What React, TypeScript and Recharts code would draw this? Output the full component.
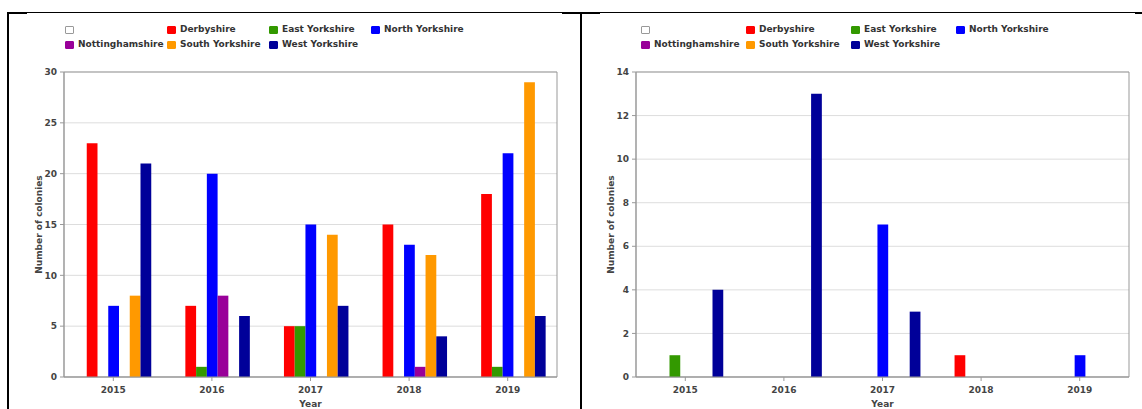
import React from "react";
import { BarChart, Bar, XAxis, YAxis, CartesianGrid, Legend, Label, ReferenceArea } from "recharts";

// Colonies per county and year, two panels side by side
const years = ["2015", "2016", "2017", "2018", "2019"];

const seriesNames = [
  "",
  "Derbyshire",
  "East Yorkshire",
  "North Yorkshire",
  "Nottinghamshire",
  "South Yorkshire",
  "West Yorkshire"
];
const seriesColors = ["#ffffff", "#ff0000", "#339900", "#0000ff", "#990099", "#ff9900", "#000099"];

// left panel
const blankLeft = [0, 0, 0, 0, 0];
const derbyshireLeft = [23, 7, 5, 15, 18];
const eastLeft = [0, 1, 5, 0, 1];
const northLeft = [7, 20, 15, 13, 22];
const nottsLeft = [0, 8, 0, 1, 0];
const southLeft = [8, 0, 14, 12, 29];
const westLeft = [21, 6, 7, 4, 6];
const leftTicks = [0, 5, 10, 15, 20, 25, 30];

// right panel
const blankRight = [0, 0, 0, 0, 0];
const derbyshireRight = [0, 0, 0, 1, 0];
const eastRight = [1, 0, 0, 0, 0];
const northRight = [0, 0, 7, 0, 1];
const nottsRight = [0, 0, 0, 0, 0];
const southRight = [0, 0, 0, 0, 0];
const westRight = [4, 13, 3, 0, 0];
const rightTicks = [0, 2, 4, 6, 8, 10, 12, 14];

const FONT = "'DejaVu Sans', sans-serif";
const tickStyle = { fill: "#444", fontSize: 9, fontWeight: "bold" as const, fontFamily: FONT };

function buildRows(cols: number[][]) {
  return years.map((year, i) => {
    const row: Record<string, string | number> = { year };
    cols.forEach((c, k) => (row["s" + k] = c[i]));
    return row;
  });
}

const leftRows = buildRows([blankLeft, derbyshireLeft, eastLeft, northLeft, nottsLeft, southLeft, westLeft]);
const rightRows = buildRows([blankRight, derbyshireRight, eastRight, northRight, nottsRight, southRight, westRight]);

function LegendGrid({ colWidth }: { colWidth: number }) {
  return (
    <div
      style={{
        display: "grid",
        gridTemplateColumns: `repeat(4, ${colWidth}px)`,
        fontFamily: FONT,
        fontSize: 9,
        fontWeight: "bold",
        color: "#333",
        lineHeight: "15px"
      }}
    >
      {seriesNames.map((name, i) => (
        <div key={i} style={{ display: "flex", alignItems: "center", height: 15, whiteSpace: "nowrap" }}>
          <span
            style={{
              display: "inline-block",
              width: 9,
              height: 8,
              boxSizing: "border-box",
              borderRadius: 1,
              background: seriesColors[i],
              border: `1px solid ${i === 0 ? "#999" : seriesColors[i]}`,
              marginRight: 4
            }}
          />
          {name}
        </div>
      ))}
    </div>
  );
}

type PanelProps = {
  rows: Record<string, string | number>[];
  ticks: number[];
  left: number;
  width: number;
  marginLeft: number;
  marginRight: number;
  legendLeft: number;
  colWidth: number;
};

function Panel({ rows, ticks, left, width, marginLeft, marginRight, legendLeft, colWidth }: PanelProps) {
  const max = ticks[ticks.length - 1];
  return (
    <div style={{ position: "absolute", left, top: 0 }}>
      <BarChart
        width={width}
        height={409}
        data={rows}
        margin={{ top: 72, right: marginRight, bottom: 2, left: marginLeft }}
        barGap={0}
        style={{ fontFamily: FONT }}
      >
        <CartesianGrid vertical={false} stroke="#dddddd" />
        {/* plot frame */}
        <ReferenceArea y1={0} y2={max} fill="none" stroke="#999" strokeWidth={1} ifOverflow="visible" />
        <XAxis
          dataKey="year"
          height={30}
          tick={tickStyle}
          tickSize={4}
          tickMargin={6}
          stroke="#999"
          tickLine={{ stroke: "#999" }}
        >
          <Label value="Year" position="insideBottom" offset={0} fill="#444" fontSize={9} fontWeight="bold" />
        </XAxis>
        <YAxis
          width={55}
          domain={[0, max]}
          ticks={ticks}
          interval={0}
          tick={tickStyle}
          tickSize={4}
          tickMargin={3}
          stroke="#999"
        >
          <Label
            value="Number of colonies"
            angle={-90}
            position="center"
            dx={2.5}
            fill="#444"
            fontSize={9}
            fontWeight="bold"
          />
        </YAxis>
        <Legend
          layout="vertical"
          align="center"
          verticalAlign="middle"
          wrapperStyle={{ left: legendLeft, top: 22, width: colWidth * 4 }}
          content={() => <LegendGrid colWidth={colWidth} />}
        />
        {seriesNames.map((name, i) => (
          <Bar
            key={i}
            dataKey={"s" + i}
            name={name}
            fill={seriesColors[i]}
            barSize={10.75}
            isAnimationActive={false}
          />
        ))}
      </BarChart>
    </div>
  );
}

export default function App() {
  const line = "#000";
  return (
    <div style={{ position: "absolute", left: 0, top: 0, width: 1142, height: 409, background: "#fff", overflow: "hidden" }}>
      <Panel rows={leftRows} ticks={leftTicks} left={0} width={580} marginLeft={9} marginRight={23} legendLeft={65} colWidth={102} />
      <Panel rows={rightRows} ticks={rightTicks} left={580} width={562} marginLeft={1} marginRight={13} legendLeft={61} colWidth={105} />
      {/* table cell borders */}
      <div style={{ position: "absolute", left: 7, top: 12, width: 1135, height: 1, background: line }} />
      <div style={{ position: "absolute", left: 7, top: 12, width: 20, height: 2, background: line }} />
      <div style={{ position: "absolute", left: 562, top: 12, width: 38, height: 2, background: line }} />
      <div style={{ position: "absolute", left: 1135, top: 12, width: 7, height: 2, background: line }} />
      <div style={{ position: "absolute", left: 7, top: 12, width: 2, height: 397, background: line }} />
      <div style={{ position: "absolute", left: 580, top: 12, width: 2, height: 397, background: line }} />
    </div>
  );
}
